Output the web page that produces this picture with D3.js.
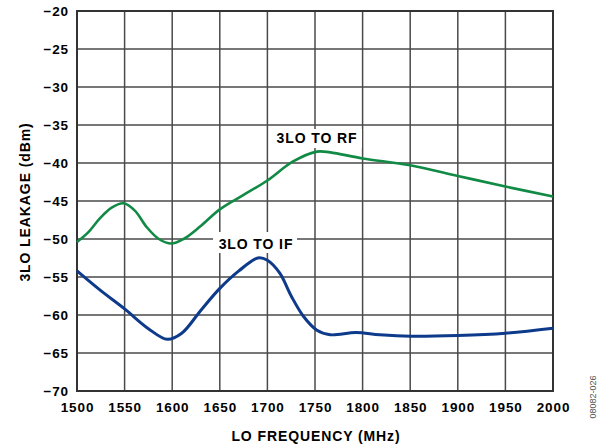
<!DOCTYPE html>
<html><head><meta charset="utf-8">
<script src="https://cdn.jsdelivr.net/npm/d3@7"></script>
<style>body{margin:0;background:#fff}svg{display:block}</style>
</head><body><svg id="c" width="605" height="445"></svg>
<script>
const xTicks = [1500,1550,1600,1650,1700,1750,1800,1850,1900,1950,2000];
const yTicks = [-20,-25,-30,-35,-40,-45,-50,-55,-60,-65,-70];
const rfFreq = [1500,1512,1524,1536,1549,1561,1573,1586,1599,1612,1629,1650,1675,1700,1727,1752,1766,1800,1850,1900,1950,2000];
const rfVal  = [-50.4,-49.1,-47.3,-45.9,-45.3,-46.3,-48.4,-50.0,-50.6,-50.0,-48.4,-46.1,-44.2,-42.3,-39.8,-38.5,-38.6,-39.4,-40.3,-41.7,-43.1,-44.4];
const ifFreq = [1500,1525,1550,1575,1595,1610,1630,1650,1670,1690,1700,1713,1725,1738,1752,1766,1793,1818,1850,1900,1950,2000];
const ifVal  = [-54.2,-56.8,-59.2,-61.8,-63.2,-62.4,-59.4,-56.5,-54.2,-52.5,-52.8,-54.5,-57.5,-60.2,-62.0,-62.6,-62.3,-62.6,-62.8,-62.7,-62.4,-61.75];

const svg = d3.select('#c');
const L=77,R=553,T=11,B=391;
const x = d3.scaleLinear().domain([1500,2000]).range([L,R]);
const y = d3.scaleLinear().domain([-70,-20]).range([B,T]);
const font = "'Liberation Sans', Arial, sans-serif";

// grid
const g = svg.append('g');
g.selectAll('.vg').data(xTicks).enter().append('line')
 .attr('x1',d=>x(d)).attr('x2',d=>x(d)).attr('y1',T).attr('y2',B)
 .attr('stroke','#4a4a4a').attr('stroke-width',1.5);
g.selectAll('.hg').data(yTicks).enter().append('line')
 .attr('y1',d=>y(d)).attr('y2',d=>y(d)).attr('x1',L).attr('x2',R)
 .attr('stroke','#4a4a4a').attr('stroke-width',1.5);

// label backgrounds
svg.append('rect').attr('x',272).attr('y',129).attr('width',90).attr('height',19).attr('fill','#fff');
svg.append('rect').attr('x',213).attr('y',232).attr('width',84).attr('height',21).attr('fill','#fff');

// frame
svg.append('rect').attr('x',L).attr('y',T).attr('width',R-L).attr('height',B-T)
 .attr('fill','none').attr('stroke','#333').attr('stroke-width',2);

function styleText(sel, size){
  sel.attr('font-family',font).attr('font-weight','bold').attr('font-size',size)
     .attr('letter-spacing','0.9px').attr('fill','#000');
}

// axes text
const xa = d3.axisBottom(x).tickValues(xTicks).tickSize(0).tickPadding(11).tickFormat(d3.format('d'));
const xg = svg.append('g').attr('transform',`translate(0,${B})`).call(xa);
xg.select('.domain').remove();
styleText(xg.selectAll('text'), 13.5);

const ya = d3.axisLeft(y).tickValues(yTicks).tickSize(0).tickPadding(8).tickFormat(d=>'\u2212'+Math.abs(d));
const yg = svg.append('g').attr('transform',`translate(${L},0)`).call(ya);
yg.select('.domain').remove();
styleText(yg.selectAll('text'), 13.5);

// titles
styleText(svg.append('text').attr('x',316).attr('y',441).attr('text-anchor','middle')
 .text('LO FREQUENCY (MHz)'), 14);
styleText(svg.append('text').attr('transform','translate(30,202) rotate(-90)').attr('text-anchor','middle')
 .text('3LO LEAKAGE (dBm)'), 14);
svg.append('text').attr('transform','translate(596,397) rotate(-90)').attr('text-anchor','middle')
 .attr('font-family',font).attr('font-size',9).attr('fill','#555')
 .text('08082-026');

// curves
const line = d3.line().curve(d3.curveCatmullRom.alpha(0.5));
svg.append('path').attr('d',line(rfFreq.map((f,i)=>[x(f),y(rfVal[i])])))
 .attr('fill','none').attr('stroke','#118a45').attr('stroke-width',2.6);
svg.append('path').attr('d',line(ifFreq.map((f,i)=>[x(f),y(ifVal[i])])))
 .attr('fill','none').attr('stroke','#0d3a8a').attr('stroke-width',3);

// series labels
styleText(svg.append('text').attr('x',317).attr('y',143).attr('text-anchor','middle').text('3LO TO RF'), 14);
styleText(svg.append('text').attr('x',256).attr('y',249).attr('text-anchor','middle').text('3LO TO IF'), 14);
</script></body></html>
